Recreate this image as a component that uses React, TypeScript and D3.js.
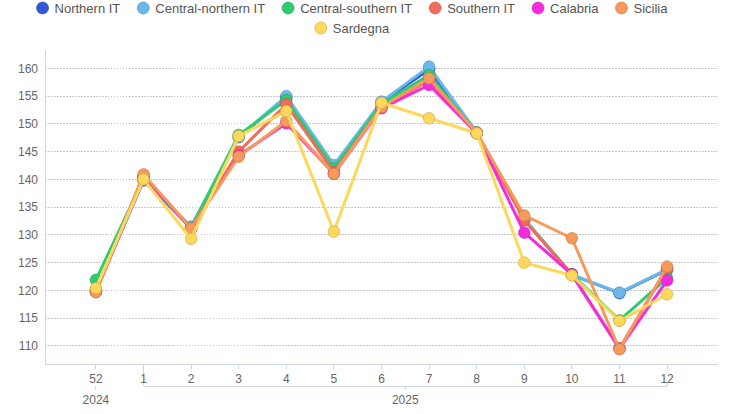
import React, { useEffect, useRef } from 'react';
import * as d3 from 'd3';

const weeks = ['52', '1', '2', '3', '4', '5', '6', '7', '8', '9', '10', '11', '12'];
const years = [
  { label: '2024', from: 0, to: 0 },
  { label: '2025', from: 1, to: 12 },
];
const yTicks = [110, 115, 120, 125, 130, 135, 140, 145, 150, 155, 160];

const northern = [120.0, 139.8, 131.3, 147.6, 154.8, 142.2, 153.9, 159.8, 148.4, 132.8, 122.8, 119.5, 123.7];
const centralNorthern = [120.2, 140.0, 131.5, 147.7, 155.0, 142.6, 154.0, 160.3, 148.5, 132.9, 122.8, 119.6, 123.8];
const centralSouthern = [121.9, 140.1, 131.3, 148.0, 154.3, 142.0, 153.6, 158.8, 148.4, 132.7, 122.9, 114.6, 122.2];
const southern = [119.7, 140.7, 131.1, 145.0, 153.5, 141.3, 153.0, 157.8, 148.4, 132.6, 122.9, 109.6, 124.0];
const calabria = [119.8, 140.5, 131.1, 144.3, 150.1, 141.0, 152.8, 157.0, 148.3, 130.4, 122.9, 109.5, 121.8];
const sicilia = [119.7, 140.9, 131.2, 144.1, 150.5, 141.0, 153.0, 158.2, 148.4, 133.5, 129.4, 109.4, 124.3];
const sardegna = [120.4, 140.0, 129.3, 147.8, 152.3, 130.6, 153.8, 151.0, 148.3, 125.0, 122.7, 114.5, 119.3];

const seriesNames = ['Northern IT', 'Central-northern IT', 'Central-southern IT', 'Southern IT', 'Calabria', 'Sicilia', 'Sardegna'];
const seriesColors = ['#3457d5', '#6bb9ea', '#2ecc71', '#f26b5b', '#f62cdc', '#f59a5b', '#fdd85a'];
const seriesValues = [northern, centralNorthern, centralSouthern, southern, calabria, sicilia, sardegna];

const W = 731;
const H = 414;
const FONT = '"Liberation Sans", Arial, sans-serif';

export default function App() {
  const ref = useRef<SVGSVGElement>(null);

  useEffect(() => {
    if (!ref.current) return;
    const svg = d3.select(ref.current);
    svg.selectAll('*').remove();

    const left = 45, right = 718, top = 50, bottom = 364;

    const x = d3.scalePoint<string>().domain(weeks).range([left, right]).padding(1.07);
    const y = d3.scaleLinear().domain([106.75, 163.3]).range([bottom, top]);

    // grid
    svg.append('g')
      .selectAll('line')
      .data(yTicks)
      .join('line')
      .attr('x1', left)
      .attr('x2', right)
      .attr('y1', d => y(d))
      .attr('y2', d => y(d))
      .attr('stroke', '#c8c8c8')
      .attr('stroke-dasharray', '1.5,1.5')
      .attr('shape-rendering', 'crispEdges');

    // y axis labels + line
    svg.append('g')
      .selectAll('text')
      .data(yTicks)
      .join('text')
      .attr('x', 38)
      .attr('y', d => y(d))
      .attr('dy', '0.35em')
      .attr('text-anchor', 'end')
      .attr('font-family', FONT)
      .attr('font-size', 12)
      .attr('fill', '#666')
      .text(d => d);

    svg.append('line')
      .attr('x1', left).attr('x2', left)
      .attr('y1', top).attr('y2', bottom)
      .attr('stroke', '#ccd6eb')
      .attr('shape-rendering', 'crispEdges');

    // x axis
    const axisG = svg.append('g').attr('stroke', '#ccd6eb').attr('shape-rendering', 'crispEdges');
    axisG.append('line').attr('x1', left).attr('x2', right).attr('y1', bottom).attr('y2', bottom);
    axisG.selectAll('.tick')
      .data(weeks)
      .join('line')
      .attr('x1', d => x(d)!)
      .attr('x2', d => x(d)!)
      .attr('y1', bottom)
      .attr('y2', bottom + 5);

    svg.append('g')
      .selectAll('text')
      .data(weeks)
      .join('text')
      .attr('x', d => x(d)!)
      .attr('y', 383)
      .attr('text-anchor', 'middle')
      .attr('font-family', FONT)
      .attr('font-size', 12)
      .attr('fill', '#666')
      .text(d => d);

    // year groups
    years.forEach(g => {
      const x0 = x(weeks[g.from])!;
      const x1 = x(weeks[g.to])!;
      const cx = (x0 + x1) / 2;
      if (g.to > g.from) {
        axisG.append('line').attr('x1', x0).attr('x2', x0).attr('y1', bottom).attr('y2', 386);
        axisG.append('line').attr('x1', x0).attr('x2', x1).attr('y1', 386).attr('y2', 386);
        axisG.append('line').attr('x1', x1).attr('x2', x1).attr('y1', 382).attr('y2', 386);
      }
      axisG.append('line').attr('x1', cx).attr('x2', cx).attr('y1', 386).attr('y2', 390);
      svg.append('text')
        .attr('x', cx)
        .attr('y', 404)
        .attr('text-anchor', 'middle')
        .attr('font-family', FONT)
        .attr('font-size', 12)
        .attr('fill', '#666')
        .text(g.label);
    });

    // series
    const line = d3.line<number>()
      .x((_, i) => x(weeks[i])!)
      .y(d => y(d));

    seriesValues.forEach((vals, si) => {
      const col = seriesColors[si];
      const g = svg.append('g');
      g.append('path')
        .attr('d', line(vals))
        .attr('fill', 'none')
        .attr('stroke', col)
        .attr('stroke-width', 3)
        .attr('stroke-linejoin', 'round');
      g.selectAll('circle')
        .data(vals)
        .join('circle')
        .attr('cx', (_, i) => x(weeks[i])!)
        .attr('cy', d => y(d))
        .attr('r', 5.8)
        .attr('fill', col)
        .attr('stroke', d3.color(col)!.darker(0.7).formatHex())
        .attr('stroke-opacity', 0.6)
        .attr('stroke-width', 1);
    });

    // legend
    const rows = [seriesNames.slice(0, 6), seriesNames.slice(6)];
    const legendCenter = 352;
    const rowY = [8, 28];
    const gap = 17;
    let idx = 0;
    rows.forEach((names, ri) => {
      const lg = svg.append('g');
      let cursor = 0;
      names.forEach(name => {
        const si = idx++;
        const item = lg.append('g').attr('transform', `translate(${cursor},0)`);
        item.append('circle')
          .attr('cx', 6)
          .attr('cy', 0)
          .attr('r', 6)
          .attr('fill', seriesColors[si])
          .attr('stroke', d3.color(seriesColors[si])!.darker(0.7).formatHex())
          .attr('stroke-opacity', 0.6);
        const t = item.append('text')
          .attr('x', 18)
          .attr('y', 0)
          .attr('dy', '0.35em')
          .attr('font-family', FONT)
          .attr('font-size', 13)
          .attr('fill', '#555')
          .text(name);
        const w = (t.node() as SVGTextElement).getComputedTextLength();
        cursor += 18 + w + gap;
      });
      const total = cursor - gap;
      lg.attr('transform', `translate(${legendCenter - total / 2},${rowY[ri]})`);
    });
  }, []);

  return (
    <svg
      ref={ref}
      width={W}
      height={H}
      style={{ display: 'block', position: 'absolute', left: 0, top: 0, background: '#fff' }}
    />
  );
}
